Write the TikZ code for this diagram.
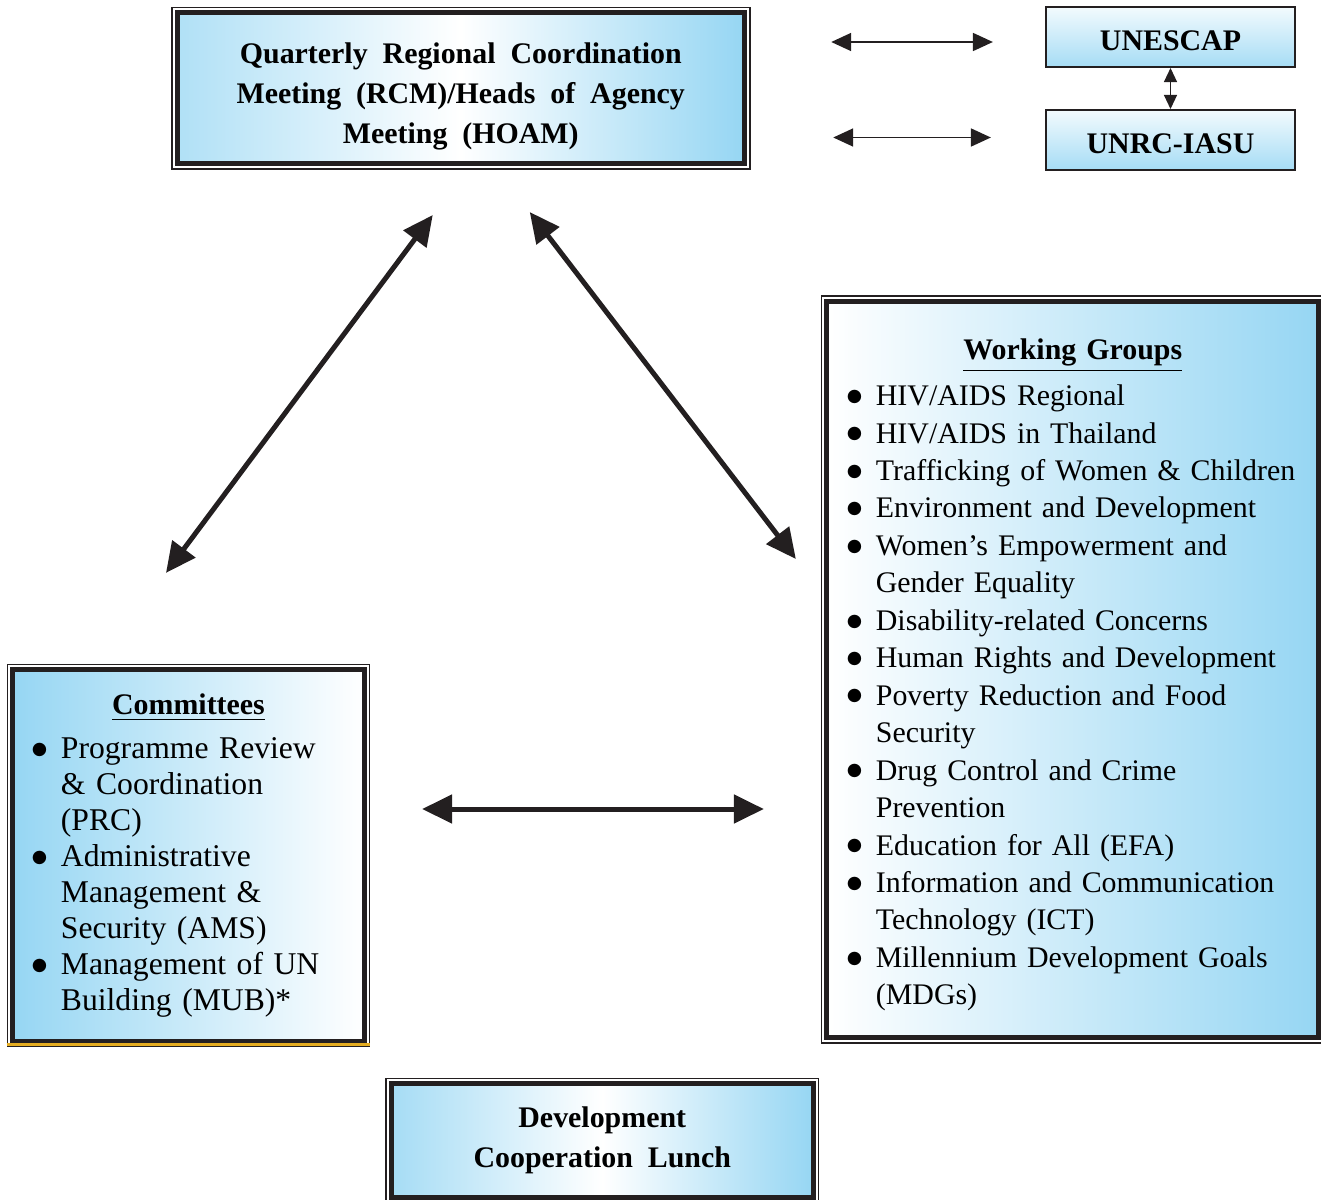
\documentclass[tikz,border=0pt]{standalone}
\usepackage{fontspec}
\setmainfont{Liberation Serif}
\newfontfamily\dotfont{DejaVu Sans}
\usetikzlibrary{arrows.meta, fit, calc}

\definecolor{skyfill}{RGB}{150,214,243}
\definecolor{inkblack}{RGB}{35,31,32}
\definecolor{goldline}{RGB}{228,172,32}

\newcommand{\titlefont}{\fontsize{8.5}{11.4}\selectfont\bfseries\spaceskip=0.5em\relax}
\newcommand{\headfont}{\fontsize{8.5}{10.5}\selectfont\bfseries}
\newcommand{\cmtfont}{\fontsize{9}{10.24}\selectfont\spaceskip=0.35em\relax}
\newcommand{\wgfont}{\fontsize{8.5}{10.65}\selectfont\spaceskip=0.35em\relax}
\newcommand{\bulletitem}{\par\hangindent=0.29cm\hangafter=1\noindent
	\makebox[0.29cm][l]{\raisebox{1.2pt}{\dotfont\fontsize{5}{5}\selectfont ●}}}

\begin{document}
\begin{tikzpicture}[x=0.01cm, y=-0.01cm,
		thickbox/.style={draw=inkblack, line width=0.05cm, inner sep=0pt},
		thinframe/.style={draw=inkblack, line width=0.017cm, inner sep=0.03cm},
		smallbox/.style={draw=inkblack, line width=0.02cm, top color=skyfill!12!white, bottom color=skyfill!85!white,
			minimum width=2.49cm, minimum height=0.6cm, text height=0.28cm, font=\fontsize{8.5}{10}\selectfont\bfseries},
		bigarrow/.style={inkblack, line width=0.05cm, >={Triangle[length=0.3cm, width=0.28cm]}, <->},
		thinarrow/.style={inkblack, line width=0.017cm, >={Triangle[length=0.2cm, width=0.18cm]}, <->},
		tinyarrow/.style={inkblack, line width=0.012cm, >={Triangle[length=0.14cm, width=0.13cm]}, <->}]
		\useasboundingbox (0,0) rectangle (1321,1200);
		
		% Meeting box
		\node[thickbox, minimum width=5.665cm, minimum height=1.505cm, left color=skyfill!75!white, right color=skyfill,
			middle color=white, align=center, font=\titlefont] (rcm) at (460.75,88.25)
			{\rule{0pt}{10.5pt}Quarterly Regional Coordination\\Meeting (RCM)/Heads of Agency\\Meeting (HOAM)};
		\node[thinframe, fit=(rcm)] (rcmframe) {};
		
		% UN side boxes
		\node[smallbox] (esc) at (1170.5,37) {UNESCAP};
		\node[smallbox] (unrc) at (1170.5,140) {UNRC-IASU};
		
		% Committees
		\node[thickbox, minimum width=3.51cm, minimum height=3.71cm, inner xsep=0.19cm, text width=3.13cm, align=left,
			left color=skyfill, right color=white, font=\cmtfont] (cmt) at (188.5,855.5)
			{{\centering\headfont\underline{Committees}\par}\vspace{0.08cm}%
			\bulletitem Programme Review\newline \& Coordination\newline (PRC)%
			\bulletitem Administrative\newline Management \&\newline Security (AMS)%
			\bulletitem Management of UN\newline Building (MUB)*\par};
		\node[thinframe, fit=(cmt)] (cmtframe) {};
		\draw[goldline, line width=0.025cm] ($(cmtframe.south west)+(0,-3)$) -- ($(cmtframe.south east)+(0,-3)$);
		
		% Working groups
		\node[thickbox, minimum width=4.915cm, minimum height=7.36cm, inner xsep=0.2cm, text width=4.515cm, align=left,
			left color=white, right color=skyfill, font=\wgfont] (wg) at (1072.75,669.5)
			{{\centering\headfont\rule{0pt}{8.9pt}\underline{Working Groups}\par}\vspace{0.09cm}%
			\bulletitem HIV/AIDS Regional%
			\bulletitem HIV/AIDS in Thailand%
			\bulletitem Trafficking of Women \& Children%
			\bulletitem Environment and Development%
			\bulletitem Women's Empowerment and\newline Gender Equality%
			\bulletitem Disability-related Concerns%
			\bulletitem Human Rights and Development%
			\bulletitem Poverty Reduction and Food\newline Security%
			\bulletitem Drug Control and Crime\newline Prevention%
			\bulletitem Education for All (EFA)%
			\bulletitem Information and Communication\newline Technology (ICT)%
			\bulletitem Millennium Development Goals\newline (MDGs)\par};
		\node[thinframe, fit=(wg)] (wgframe) {};
		
		% Lunch box
		\node[thickbox, minimum width=4.215cm, minimum height=1.135cm, left color=skyfill!85!white, right color=skyfill,
			middle color=white, align=center, font=\titlefont] (dcl) at (602.25,1140.75)
			{Development\\Cooperation Lunch};
		\node[thinframe, fit=(dcl)] (dclframe) {};
		
		% links to the UN boxes
		\draw[thinarrow, shorten <=0.845cm, shorten >=0.52cm] ($(rcm.east |- esc.west)+(0,5)$) -- ($(esc.west)+(0,5)$);
		\draw[thinarrow, shorten <=0.865cm, shorten >=0.54cm] ($(rcm.east |- unrc.west)+(0,-2.5)$) -- ($(unrc.west)+(0,-2.5)$);
		\draw[tinyarrow] (esc) -- (unrc);
		
		% triangle of big arrows
		\draw[bigarrow] ($(rcm.south)+(-28,49)$) -- ($(cmt.north)+(-22.5,-94.5)$);
		\draw[bigarrow] ($(rcm.south)+(69,46)$) -- ($(wg.west)+(-28.5,-110.5)$);
		\draw[bigarrow] ($(cmt.east)+(55.5,-46.5)$) -- ($(wg.west |- cmt.east)+(-60.5,-46.5)$);
	\end{tikzpicture}
\end{document}
